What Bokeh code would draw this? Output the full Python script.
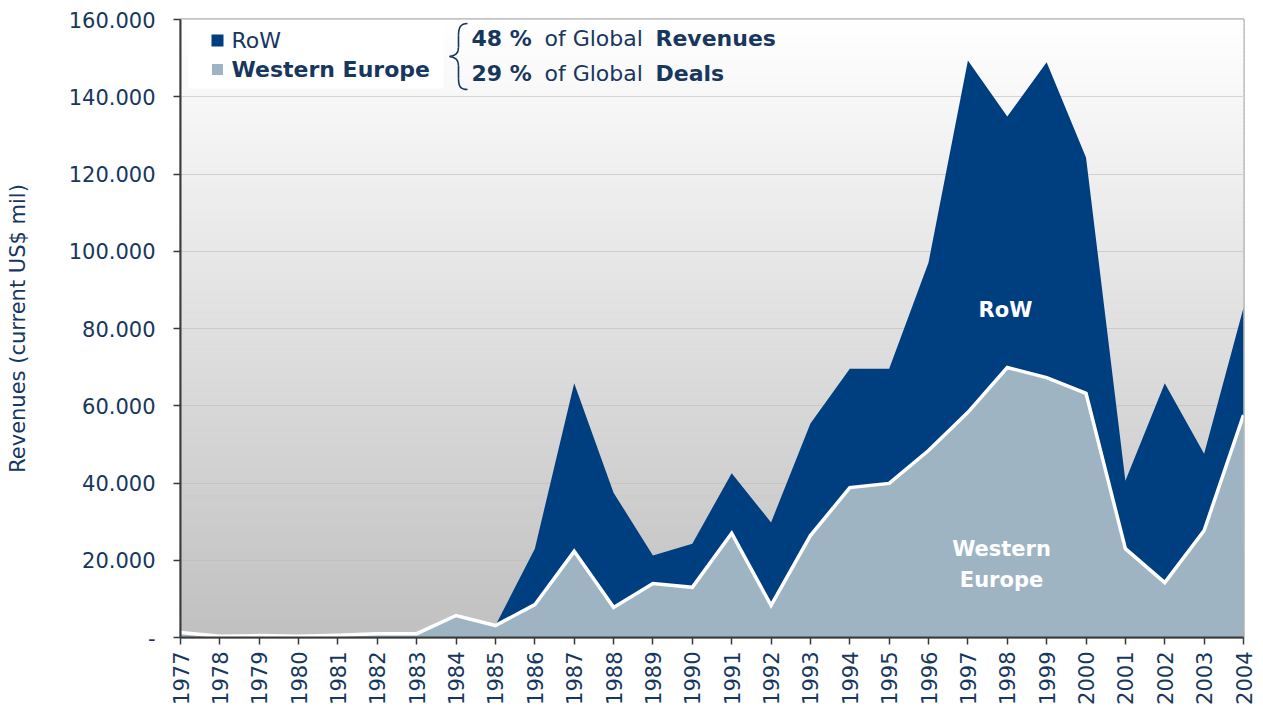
import math
import numpy as np
from bokeh.plotting import figure
from bokeh.models import FixedTicker, Range1d
from bokeh.core.properties import value
from bokeh.embed import file_html
from bokeh.resources import INLINE

# ---------------- data ----------------
years = list(range(1977, 2005))
western_europe = [1300, 300, 500, 300, 600, 1000, 1000, 5700, 3100, 8500, 22300, 7800,
                  14000, 13000, 27000, 8300, 26400, 38800, 39900, 48400, 58300, 69900,
                  67300, 63200, 23000, 14200, 27700, 57600]
total = [1300, 300, 500, 300, 600, 1000, 1000, 5700, 3100, 23000, 65800, 37500,
         21200, 24300, 42500, 29800, 55400, 69600, 69600, 97100, 149400, 134900,
         148900, 124300, 40600, 65800, 47600, 85400]
y_ticks = [0, 20000, 40000, 60000, 80000, 100000, 120000, 140000, 160000]
y_tick_labels = ["-", "20.000", "40.000", "60.000", "80.000", "100.000", "120.000",
                 "140.000", "160.000"]
x_tick_labels = [str(y) for y in years]
series_names = ["RoW", "Western Europe"]

# ---------------- styling ----------------
W, H = 1263, 713
FL, FR, FT, FB = 180, 1243, 19, 637
X0, X1, Y0, Y1 = 1977, 2004, 0, 160000
NAVY = "#003f7f"
LIGHT = "#9fb4c2"
TXT = "#17375e"
FONT = "DejaVu Sans"


def dx(px):
    return X0 + (px - FL) * (X1 - X0) / (FR - FL)


def dy(py):
    return Y0 + (FB - py) * (Y1 - Y0) / (FB - FT)


p = figure(width=W, height=H, output_backend="svg", toolbar_location=None,
           x_range=Range1d(X0, X1), y_range=Range1d(Y0, Y1),
           min_border_left=FL, min_border_right=W - FR,
           min_border_top=FT, min_border_bottom=H - FB)
p.background_fill_color = "white"
p.border_fill_color = "white"
p.outline_line_color = "#8a8a8a"
p.outline_line_width = 2

# gradient background (white top -> gray bottom)
nb = 160
edges = np.linspace(Y0, Y1, nb + 1)
cols = []
for i in range(nb):
    t = (i + 0.5) / nb  # 0 bottom, 1 top
    c = int(round(0xc0 + (0xff - 0xc0) * t))
    cols.append("#%02x%02x%02x" % (c, c, c))
bg = p.quad(left=X0, right=X1, bottom=edges[:-1], top=edges[1:], fill_color=cols,
            line_color=cols, line_width=1)
bg.level = "image"

# grid
p.xgrid.visible = False
p.ygrid.grid_line_color = "#bdbdbd"
p.ygrid.grid_line_alpha = 0.6
p.ygrid.grid_line_width = 1
p.ygrid.ticker = FixedTicker(ticks=y_ticks[1:-1])

# areas
p.varea(x=years, y1=western_europe, y2=total, fill_color=NAVY)
p.varea(x=years, y1=[0] * len(years), y2=western_europe, fill_color=LIGHT)
p.line(x=years, y=western_europe, line_color="white", line_width=3.5, line_join="miter")

# axes
p.yaxis.ticker = FixedTicker(ticks=y_ticks)
p.yaxis.major_label_overrides = {t: l for t, l in zip(y_ticks, y_tick_labels)}
p.xaxis.ticker = FixedTicker(ticks=years)
p.xaxis.major_label_overrides = {y: l for y, l in zip(years, x_tick_labels)}
p.xaxis.major_label_orientation = math.pi / 2
for ax in (p.xaxis, p.yaxis):
    ax.axis_line_color = "#3a3a3a"
    ax.axis_line_width = 2
    ax.major_tick_line_color = "#3a3a3a"
    ax.major_tick_line_width = 1.5
    ax.major_tick_out = 7
    ax.major_tick_in = 0
    ax.minor_tick_line_color = None
    ax.major_label_text_font = FONT
    ax.major_label_text_font_size = "21px"
    ax.major_label_text_color = TXT
p.yaxis.major_label_standoff = 18
p.xaxis.major_label_standoff = 7
p.yaxis.axis_label = "Revenues (current US$ mil)"
p.yaxis.axis_label_text_font = FONT
p.yaxis.axis_label_text_font_size = "21px"
p.yaxis.axis_label_text_font_style = "normal"
p.yaxis.axis_label_text_color = TXT
p.yaxis.axis_label_standoff = 36

# in-chart labels
p.text(x=[dx(1005)], y=[dy(309)], text=[series_names[0]], text_font=value(FONT),
       text_font_style="bold", text_font_size="21px", text_color="white",
       text_align="center", text_baseline="middle")
p.text(x=[dx(1001)], y=[dy(564)], text=["Western\nEurope"], text_font=value(FONT),
       text_font_style="bold", text_font_size="21px", text_color="white",
       text_align="center", text_baseline="middle", text_line_height=1.3)

# legend box
p.quad(left=[dx(188)], right=[dx(443)], bottom=[dy(88)], top=[dy(21)],
       fill_color="white", line_color=None)
p.scatter(x=[dx(217)], y=[dy(40)], marker="square", size=12, fill_color=NAVY,
          line_color=None)
p.scatter(x=[dx(217)], y=[dy(69)], marker="square", size=11, fill_color=LIGHT,
          line_color=None)
p.text(x=[dx(231)], y=[dy(40)], text=[series_names[0]], text_font=value(FONT),
       text_font_size="22px", text_color=TXT, text_baseline="middle")
p.text(x=[dx(231)], y=[dy(69)], text=[series_names[1]], text_font=value(FONT),
       text_font_style="bold", text_font_size="22px", text_color=TXT,
       text_baseline="middle")

# brace
bz = [
    ((467, 23), (460, 23), (458, 27), (458, 35)),
    ((458, 35), (458, 41), (458, 41), (458, 47)),
    ((458, 47), (458, 53), (455, 55), (449, 56)),
    ((449, 56), (455, 57), (458, 59), (458, 65)),
    ((458, 65), (458, 71), (458, 71), (458, 78)),
    ((458, 78), (458, 86), (460, 89), (467, 89)),
]
p.bezier(x0=[dx(b[0][0]) for b in bz], y0=[dy(b[0][1]) for b in bz],
         cx0=[dx(b[1][0]) for b in bz], cy0=[dy(b[1][1]) for b in bz],
         cx1=[dx(b[2][0]) for b in bz], cy1=[dy(b[2][1]) for b in bz],
         x1=[dx(b[3][0]) for b in bz], y1=[dy(b[3][1]) for b in bz],
         line_color=TXT, line_width=1.6)

# stats text
rows = [
    (38, [("48 %", "bold", 471), ("of Global", "normal", 544), ("Revenues", "bold", 655)]),
    (73, [("29 %", "bold", 471), ("of Global", "normal", 544), ("Deals", "bold", 655)]),
]
for yy, parts in rows:
    for txt, style, xx in parts:
        p.text(x=[dx(xx)], y=[dy(yy)], text=[txt], text_font=value(FONT),
               text_font_style=style, text_font_size="22px", text_color=TXT,
               text_baseline="middle")

open("out.html", "w").write(file_html(p, INLINE))
